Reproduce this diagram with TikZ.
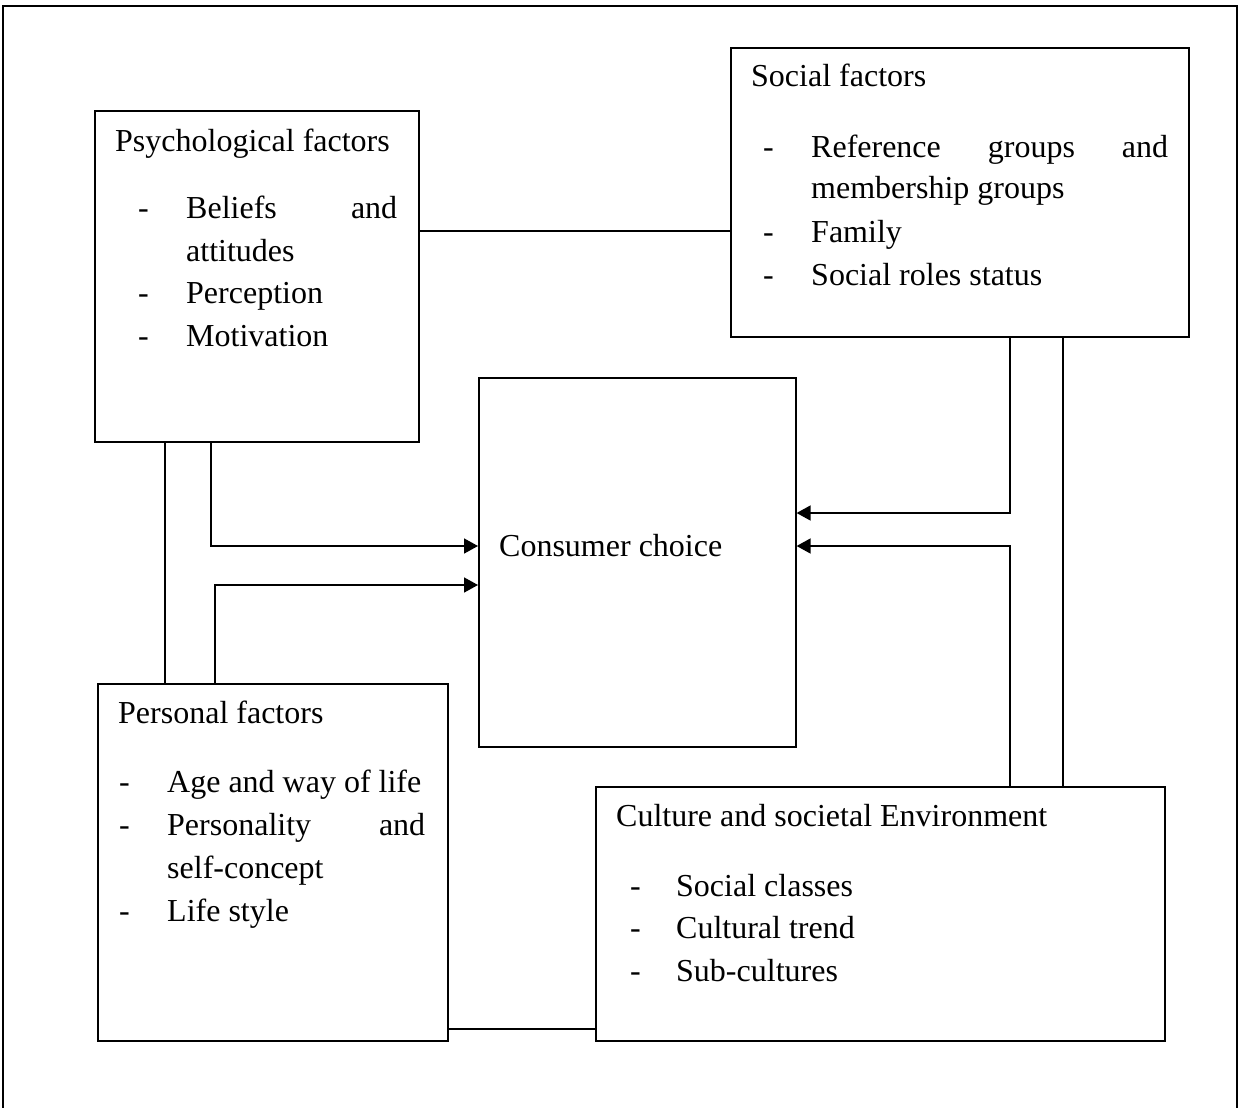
\documentclass[tikz,border=0pt]{standalone}
\usepackage{fontspec}
\setmainfont{Liberation Serif}
\usetikzlibrary{arrows.meta}
\tikzset{
  box/.style={draw, line width=1.6pt, inner sep=0pt, anchor=north west},
  conn/.style={line width=1.6pt},
  arr/.style={conn, -{Triangle[length=14pt,width=15pt]}},
  txt/.style={anchor=base west, inner sep=0pt, font=\fontsize{32}{42}\selectfont},
}
\begin{document}
\begin{tikzpicture}[x=1pt,y=-1pt]
\useasboundingbox (0,0) rectangle (1240,1108);
% outer frame (open at the bottom)
\draw[line width=1.6pt] (3,1108) -- (3,6) -- (1237,6) -- (1237,1108);

% boxes
\node[box, minimum width=324pt, minimum height=331pt] (psy)  at (94,110) {};
\node[box, minimum width=458pt, minimum height=289pt] (soc)  at (730,47) {};
\node[box, minimum width=317pt, minimum height=369pt] (cons) at (478,377) {};
\node[box, minimum width=350pt, minimum height=357pt] (pers) at (97,683) {};
\node[box, minimum width=569pt, minimum height=254pt] (cult) at (595,786) {};

% psychological factors
\node[txt] (psyT) at (115,151) {Psychological factors};
\node[txt] (psyD1) at (138,218) {-};
\node[txt] (psyL1) at (186,218) {\hbox to 211pt{Beliefs\hfill and}};
\node[txt] (psyL2) at (186,261) {attitudes};
\node[txt] (psyD2) at (138,303) {-};
\node[txt] (psyL3) at (186,303) {Perception};
\node[txt] (psyD3) at (138,346) {-};
\node[txt] (psyL4) at (186,346) {Motivation};

% social factors
\node[txt] (socT) at (751,87) {Social factors};
\node[txt] (socD1) at (763,157) {-};
\node[txt] (socL1) at (811,157) {\hbox to 357pt{Reference\hfill groups\hfill and}};
\node[txt] (socL2) at (811,198) {membership groups};
\node[txt] (socD2) at (763,242) {-};
\node[txt] (socL3) at (811,242) {Family};
\node[txt] (socD3) at (763,285) {-};
\node[txt] (socL4) at (811,285) {Social roles status};

% consumer choice
\node[txt] (consT) at (499,556) {Consumer choice};

% personal factors
\node[txt] (perT) at (118,723) {Personal factors};
\node[txt] (perD1) at (119,792) {-};
\node[txt] (perL1) at (167,792) {Age and way of life};
\node[txt] (perD2) at (119,835) {-};
\node[txt] (perL2) at (167,835) {\hbox to 258pt{Personality\hfill and}};
\node[txt] (perL3) at (167,878) {self-concept};
\node[txt] (perD3) at (119,921) {-};
\node[txt] (perL4) at (167,921) {Life style};

% culture
\node[txt] (culT) at (616,826) {Culture and societal Environment};
\node[txt] (culD1) at (630,896) {-};
\node[txt] (culL1) at (676,896) {Social classes};
\node[txt] (culD2) at (630,938) {-};
\node[txt] (culL2) at (676,938) {Cultural trend};
\node[txt] (culD3) at (630,981) {-};
\node[txt] (culL3) at (676,981) {Sub-cultures};

% helper coordinates
\coordinate (yPS) at (0,231);
\coordinate (yA1) at (0,546);
\coordinate (yA2) at (0,585);
\coordinate (yA3) at (0,513);
\coordinate (yA4) at (0,546);
\coordinate (yPC) at (0,1029);
\coordinate (x1) at (165,0);
\coordinate (x2) at (211,0);
\coordinate (x3) at (215,0);
\coordinate (x4) at (1010,0);
\coordinate (x5) at (1063,0);

% connectors
\draw[conn] (psy.east |- yPS) -- (soc.west |- yPS);
\draw[conn] (psy.south -| x1) -- (pers.north -| x1);
\draw[arr] (psy.south -| x2) |- (cons.west |- yA1);
\draw[arr] (pers.north -| x3) |- (cons.west |- yA2);
\draw[arr] (soc.south -| x4) |- (cons.east |- yA3);
\draw[arr] (cult.north -| x4) |- (cons.east |- yA4);
\draw[conn] (soc.south -| x5) -- (cult.north -| x5);
\draw[conn] (pers.east |- yPC) -- (cult.west |- yPC);
\end{tikzpicture}
\end{document}
